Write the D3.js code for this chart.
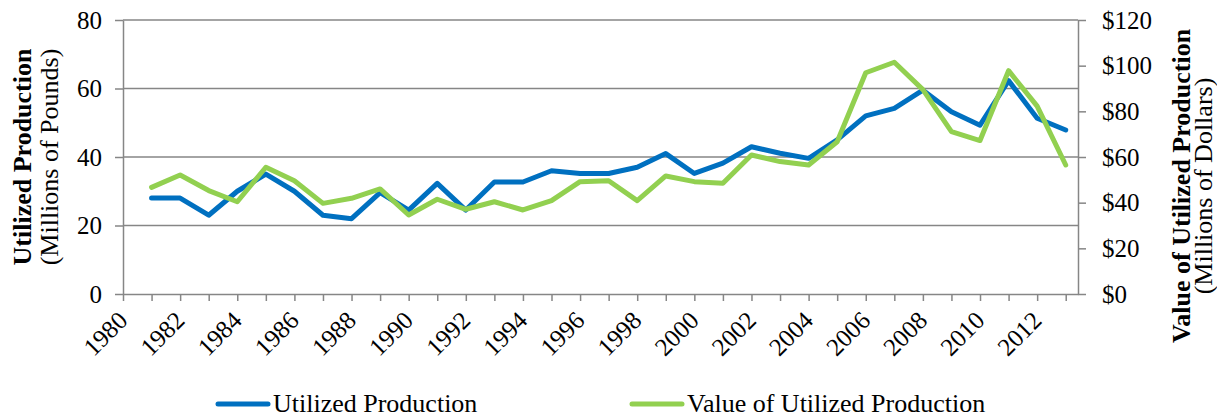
<!DOCTYPE html>
<html>
<head>
<meta charset="utf-8">
<script src="https://cdn.jsdelivr.net/npm/d3@7"></script>
<style>
	body { margin: 0; background: #fff; }
	text { font-family: "Liberation Serif", "Times New Roman", serif; fill: #000; }
	.axis path, .axis line { stroke: #868686; stroke-width: 1.5; }
	.grid line { stroke: #868686; stroke-width: 1.5; }
</style>
</head>
<body>
<div id="chart"></div>
<script>
/* SET UP */

const w = 1217;
const h = 418;
const m = { top: 20, right: 139, bottom: 124, left: 123 };

// data
const years = [1981, 1982, 1983, 1984, 1985, 1986, 1987, 1988, 1989, 1990,
	1991, 1992, 1993, 1994, 1995, 1996, 1997, 1998, 1999, 2000,
	2001, 2002, 2003, 2004, 2005, 2006, 2007, 2008, 2009, 2010,
	2011, 2012, 2013];
const utilized = [28, 28, 23, 30, 35, 30, 23, 22, 29.6, 24.5,
	32.3, 24.5, 32.7, 32.7, 36, 35.2, 35.2, 37, 41, 35.2,
	38.2, 43, 41.1, 39.6, 45, 52, 54.2, 59.5, 53.2, 49.3,
	62.3, 51.3, 47.9];
const value = [46.7, 52.1, 45.3, 40.4, 55.5, 49.6, 39.7, 41.9, 46, 34.6,
	41.5, 37.1, 40.4, 36.8, 40.9, 49.2, 49.6, 40.9, 51.7, 49.2,
	48.5, 60.9, 58, 56.5, 66.7, 96.9, 101.5, 89.5, 71.1, 67.2,
	97.8, 82.3, 56.5];
const xTicks = d3.range(1980, 2014);
const xLabels = d3.range(1980, 2013, 2);
const leftTicks = [0, 20, 40, 60, 80];
const rightTicks = [0, 20, 40, 60, 80, 100, 120];

const blue = "#0070c0";
const green = "#92d050";

const svg = d3
	.select("#chart")
	.append("svg")
	.attr("width", w)
	.attr("height", h);

/* SCALES */

const x = d3.scaleLinear().domain([1980, 2013.43]).range([m.left, w - m.right]);
const yL = d3.scaleLinear().domain([0, 80]).range([h - m.bottom, m.top]);
const yR = d3.scaleLinear().domain([0, 120]).range([h - m.bottom, m.top]);

// gridlines
svg
	.append("g")
	.attr("class", "grid")
	.selectAll("line")
	.data(leftTicks.slice(1))
	.join("line")
	.attr("x1", m.left)
	.attr("x2", w - m.right)
	.attr("y1", (d) => yL(d))
	.attr("y2", (d) => yL(d));

/* AXES */

const leftAxis = svg
	.append("g")
	.attr("class", "axis")
	.attr("transform", `translate(${m.left},0)`)
	.call(d3.axisLeft(yL).tickValues(leftTicks).tickSize(8).tickPadding(13).tickSizeOuter(0));
leftAxis.selectAll("text").style("font-size", "25px");

const rightAxis = svg
	.append("g")
	.attr("class", "axis")
	.attr("transform", `translate(${w - m.right},0)`)
	.call(
		d3.axisRight(yR)
			.tickValues(rightTicks)
			.tickFormat((d) => "$" + d)
			.tickSize(8)
			.tickPadding(16)
			.tickSizeOuter(0)
	);
rightAxis.selectAll("text").style("font-size", "25px");

const bottomAxis = svg
	.append("g")
	.attr("class", "axis")
	.attr("transform", `translate(0,${h - m.bottom})`)
	.call(d3.axisBottom(x).tickValues(xTicks).tickFormat("").tickSize(7).tickSizeOuter(0));

svg
	.append("g")
	.selectAll("text")
	.data(xLabels)
	.join("text")
	.attr("text-anchor", "end")
	.attr("transform", (d) => `translate(${x(d) + 6},${h - m.bottom + 28}) rotate(-45)`)
	.style("font-size", "25px")
	.text((d) => d);

/* LINES */

const lineL = d3.line().x((d, i) => x(years[i])).y((d) => yL(d));
const lineR = d3.line().x((d, i) => x(years[i])).y((d) => yR(d));

svg
	.append("path")
	.attr("d", lineL(utilized))
	.attr("fill", "none")
	.attr("stroke", blue)
	.attr("stroke-width", 5)
	.attr("stroke-linejoin", "round")
	.attr("stroke-linecap", "round");

svg
	.append("path")
	.attr("d", lineR(value))
	.attr("fill", "none")
	.attr("stroke", green)
	.attr("stroke-width", 5)
	.attr("stroke-linejoin", "round")
	.attr("stroke-linecap", "round");

/* AXIS TITLES */

const leftTitle = svg
	.append("text")
	.attr("transform", `translate(31,${(m.top + h - m.bottom) / 2}) rotate(-90)`)
	.attr("text-anchor", "middle")
	.style("font-size", "26px");
leftTitle.append("tspan").attr("x", 0).attr("y", 0).style("font-weight", "bold").text("Utilized Production");
leftTitle.append("tspan").attr("x", 0).attr("y", 27).text("(Millions of Pounds)");

const rightTitle = svg
	.append("text")
	.attr("transform", `translate(1190,186) rotate(-90)`)
	.attr("text-anchor", "middle")
	.style("font-size", "26px");
rightTitle.append("tspan").attr("x", 0).attr("y", 0).style("font-weight", "bold").text("Value of Utilized Production");
rightTitle.append("tspan").attr("x", 0).attr("y", 22).text("(Millions of Dollars)");

/* LEGEND */

const legend = [
	{ name: "Utilized Production", color: blue, x: 216 },
	{ name: "Value of Utilized Production", color: green, x: 630 },
];

const items = svg
	.append("g")
	.selectAll("g")
	.data(legend)
	.join("g")
	.attr("transform", (d) => `translate(${d.x},404)`);

items
	.append("line")
	.attr("x1", 2)
	.attr("x2", 52)
	.attr("stroke", (d) => d.color)
	.attr("stroke-width", 5)
	.attr("stroke-linecap", "round");

items
	.append("text")
	.attr("x", 57)
	.attr("y", 8)
	.style("font-size", "26px")
	.text((d) => d.name);
</script>
</body>
</html>
